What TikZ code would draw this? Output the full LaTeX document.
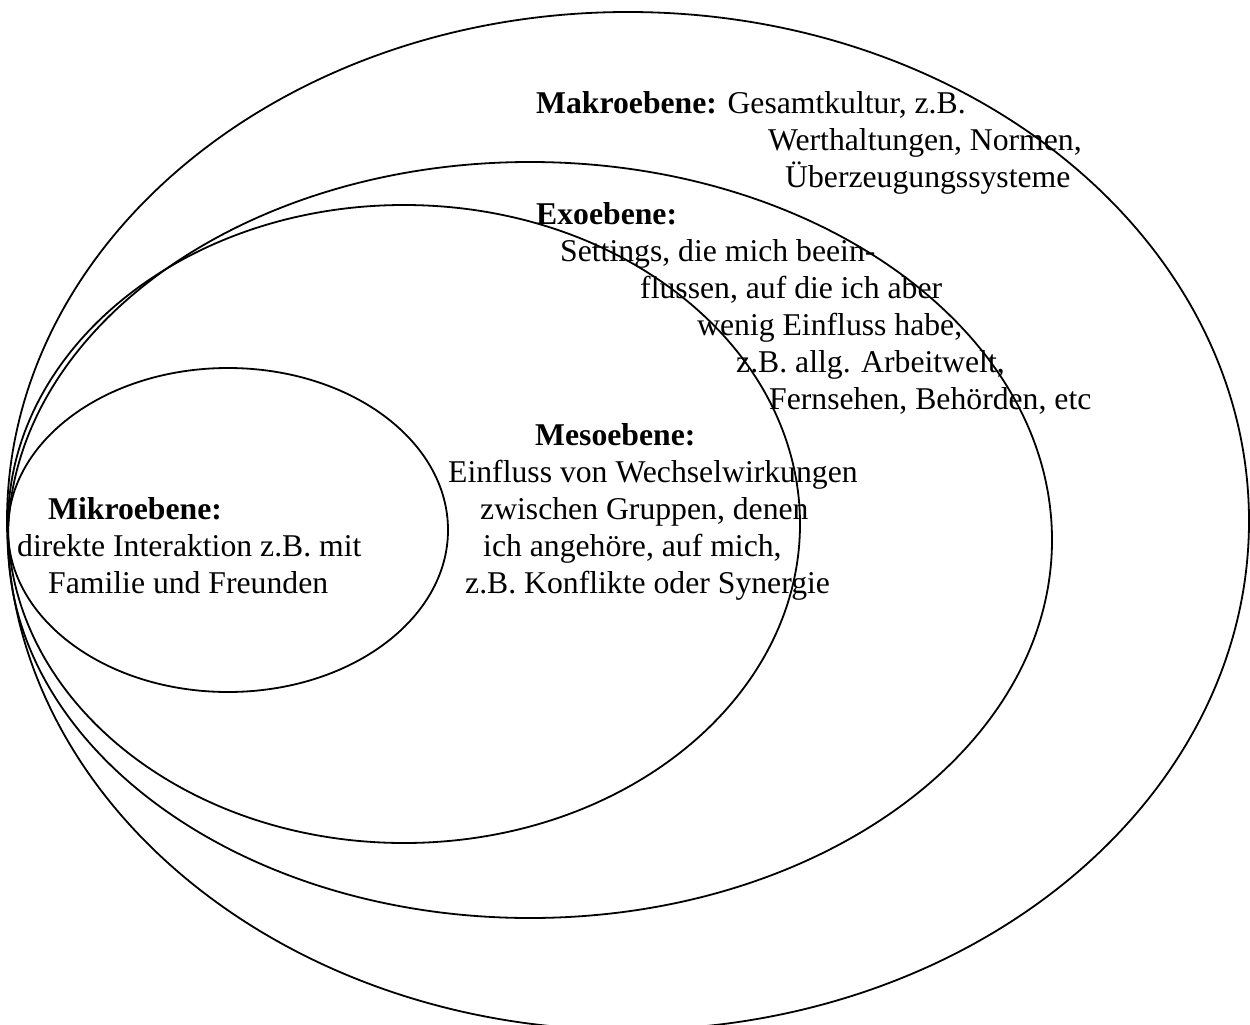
\documentclass[tikz,border=0pt]{standalone}
\usepackage{fontspec}
\setmainfont{Liberation Serif}
\begin{document}
\begin{tikzpicture}[x=1pt,y=-1pt,
                    ring/.style={line width=1.8pt, black},
                    txt/.style={anchor=base west, inner sep=0pt,
                                font=\fontsize{31.7}{37}\selectfont},
                   ]

\useasboundingbox (0,0) rectangle (1250,1025);
\clip (0,0) rectangle (1250,1025);

% the four levels
\draw[ring] (628,521) ellipse [x radius=621, y radius=509];
\draw[ring] (530,540) ellipse [x radius=522, y radius=378];
\draw[ring] (404,524) ellipse [x radius=396, y radius=319];
\draw[ring] (228,530) ellipse [x radius=220, y radius=162];

% Makro
\node[txt] (makro1) at (536,113) {\textbf{Makroebene:} Gesamtkultur, z.B.};
\node[txt] (makro2) at (768,150) {Werthaltungen, Normen,};
\node[txt] (makro3) at (785,187) {Überzeugungssysteme};

% Exo
\node[txt] (exo1) at (536,224) {\textbf{Exoebene:}};
\node[txt] (exo2) at (560,261) {Settings, die mich beein-};
\node[txt] (exo3) at (640,298) {flussen, auf die ich aber};
\node[txt] (exo4) at (697,335) {wenig Einfluss habe,};
\node[txt] (exo5) at (736,372) {z.B. allg. Arbeitwelt,};
\node[txt] (exo6) at (769,409) {Fernsehen, Behörden, etc};

% Meso
\node[txt] (meso1) at (535,445) {\textbf{Mesoebene:}};
\node[txt] (meso2) at (448,482) {Einfluss von Wechselwirkungen};
\node[txt] (meso3) at (480,519) {zwischen Gruppen, denen};
\node[txt] (meso4) at (483,556) {ich angehöre, auf mich,};
\node[txt] (meso5) at (465,593) {z.B. Konflikte oder Synergie};

% Mikro
\node[txt] (mikro1) at (48,519) {\textbf{Mikroebene:}};
\node[txt] (mikro2) at (17,556) {direkte Interaktion z.B. mit};
\node[txt] (mikro3) at (48,593) {Familie und Freunden};

\end{tikzpicture}
\end{document}
